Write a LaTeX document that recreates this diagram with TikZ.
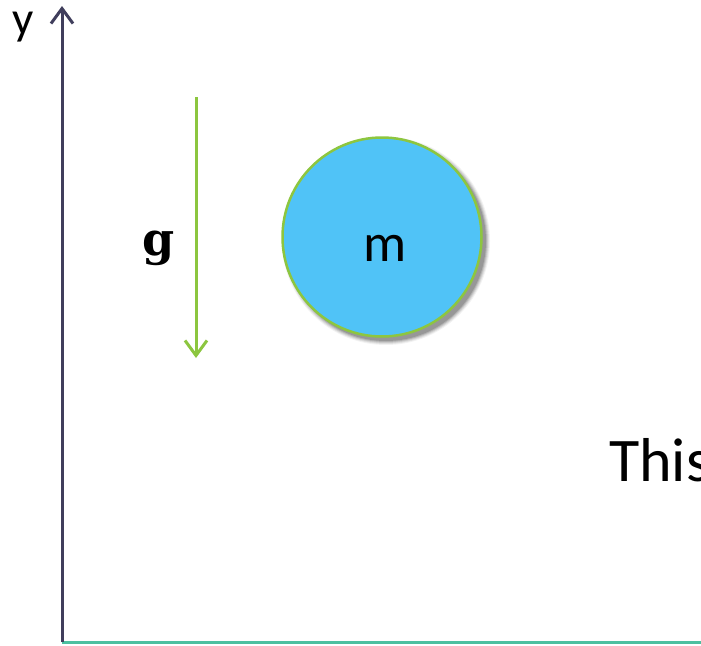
\documentclass[tikz,border=0pt]{standalone}
\usepackage{fontspec}
\setmainfont{Carlito}
\usetikzlibrary{arrows.meta}
\definecolor{axisy}{HTML}{403E5C}
\definecolor{axisx}{HTML}{4DC0A0}
\definecolor{garrow}{HTML}{8CC63F}
\definecolor{ballfill}{HTML}{50C3F7}
\definecolor{ballline}{HTML}{8DC63F}
\tikzset{
  axisline/.style={line width=3pt},
  barb/.style={-{Straight Barb[length=15pt,width=22pt,line width=3pt]}},
  lbl/.style={inner sep=0pt, text=black},
  ball/.style={circle, minimum size=199pt, inner sep=0pt, fill=ballfill, draw=ballline, line width=2.5pt}
}
\begin{document}
\begin{tikzpicture}[x=1pt,y=-1pt]
\useasboundingbox (0,0) rectangle (701,645);
\clip (0,0) rectangle (701,645);
\fill[white] (0,0) rectangle (701,645);
% axes
\coordinate (o) at (62,642);
\coordinate (ytop) at (62,6);
\coordinate (xend) at (705,642);
\draw[axisline, axisx] (o) -- (xend);
\draw[axisline, axisy, barb] (o) -- (ytop);
\node[lbl, anchor=base, font=\fontsize{47}{47}\selectfont] (ylab) at (23,34) {y};
% gravity
\coordinate (g1) at (196,97);
\coordinate (g2) at (196,358);
\draw[axisline, garrow, barb] (g1) -- (g2);
\node[lbl, anchor=base, font=\fontspec{DejaVu Serif}\bfseries\fontsize{46}{46}\selectfont] (glab) at (159,255) {g};
% shadow
\foreach \r/\op in {104/0.05,103/0.07,102/0.09,101/0.12,100/0.15}
  \fill[black, opacity=\op] (386,241) circle (\r);
\node[ball] (m) at (382,237) {};
\node[lbl, anchor=base, font=\fontsize{54}{54}\selectfont] (mlab) at (385,261) {m};
% text
\node[lbl, anchor=base west, font=\fontsize{62}{62}\selectfont] (this) at (609,481) {This};
\end{tikzpicture}
\end{document}
